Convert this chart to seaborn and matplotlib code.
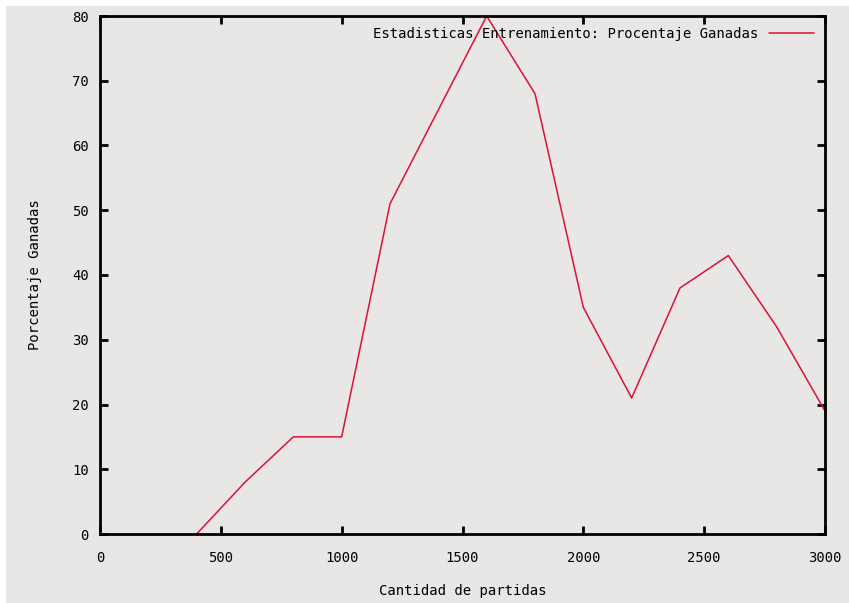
import matplotlib
matplotlib.use("Agg")
import matplotlib.pyplot as plt
import seaborn as sns
import pandas as pd
from matplotlib.patches import Rectangle

partidas = [400, 600, 800, 1000, 1200, 1400, 1600, 1800, 2000, 2200, 2400, 2600, 2800, 3000]
ganadas = [0, 8, 15, 15, 51, 65.5, 80, 68, 35, 21, 38, 43, 32, 19]
etiqueta = "Estadisticas Entrenamiento: Procentaje Ganadas"

df = pd.DataFrame({"partidas": partidas, "ganadas": ganadas})

sns.set_style("white")
plt.rcParams["font.family"] = ["DejaVu Sans Mono"]
plt.rcParams["text.color"] = "black"
plt.rcParams["axes.labelcolor"] = "black"

bg = "#e9e7e5"
fig = plt.figure(figsize=(8.49, 6.03), dpi=100, facecolor=bg)
# thin white strips of the screenshot, top and left
fig.patches.append(Rectangle((0, 597 / 603), 1, 6 / 603, transform=fig.transFigure,
                             facecolor="white", edgecolor="none", zorder=-10))
fig.patches.append(Rectangle((0, 0), 6 / 849, 1, transform=fig.transFigure,
                             facecolor="white", edgecolor="none", zorder=-10))
ax = fig.add_axes([100 / 849, 69 / 603, 725 / 849, 518 / 603])
ax.set_facecolor(bg)

sns.lineplot(data=df, x="partidas", y="ganadas", ax=ax, color="#dd1133",
             linewidth=1.1, label=etiqueta)

ax.set_xlim(0, 3000)
ax.set_ylim(0, 80)
ax.set_xticks(range(0, 3001, 500))
ax.set_yticks(range(0, 81, 10))
for s in ax.spines.values():
    s.set_color("black")
    s.set_linewidth(2)
ax.tick_params(direction="in", length=6, width=2, top=True, right=True,
               bottom=True, left=True, labelsize=10, colors="black", pad=12)
ax.tick_params(axis="y", pad=8)

ax.set_xlabel("Cantidad de partidas", fontsize=10, labelpad=14)
ax.set_ylabel("Porcentaje Ganadas", fontsize=10, labelpad=22)

leg = ax.legend(loc="upper right", frameon=False, markerfirst=False, fontsize=10,
                handlelength=3.2, borderaxespad=0.4)
for t in leg.get_texts():
    t.set_color("black")

fig.savefig("out.png", dpi=100, facecolor=bg)
